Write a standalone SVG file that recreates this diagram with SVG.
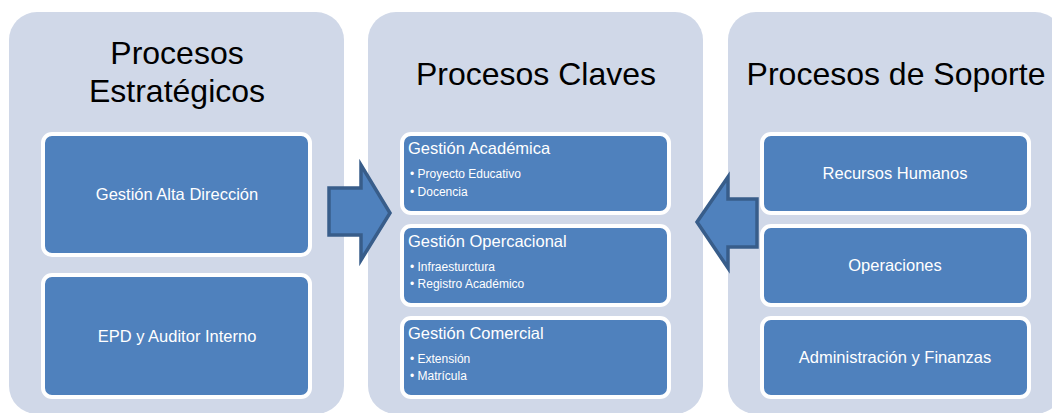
<svg xmlns="http://www.w3.org/2000/svg" width="1052" height="413" viewBox="0 0 1052 413">
<style>
.panel{fill:#D0D8E8}
.box{fill:#4F81BD;stroke:#FFFFFF;stroke-width:4}
.title{font-family:"Liberation Sans",Arial,sans-serif;font-size:32px;fill:#000000;text-anchor:middle}
.lbl{font-family:"Liberation Sans",Arial,sans-serif;font-size:16.5px;fill:#FFFFFF;text-anchor:middle}
.head{font-family:"Liberation Sans",Arial,sans-serif;font-size:16.5px;fill:#FFFFFF}
.bul{font-family:"Liberation Sans",Arial,sans-serif;font-size:12px;fill:#FFFFFF}
.arrow{fill:#4F81BD;stroke:#385D8A;stroke-width:3.5;stroke-linejoin:miter}
</style>
<rect width="1052" height="413" fill="#FFFFFF"/>
<g id="panel-estrategicos">
<rect class="panel" x="9" y="12" width="335" height="402" rx="28"/>
<text class="title" x="177" y="64">Procesos</text>
<text class="title" x="177" y="102">Estratégicos</text>
</g>
<g id="panel-claves">
<rect class="panel" x="368" y="12" width="335" height="402" rx="28"/>
<text class="title" x="536" y="85">Procesos Claves</text>
</g>
<g id="panel-soporte">
<rect class="panel" x="728" y="12" width="335" height="402" rx="28"/>
<text class="title" x="896" y="85">Procesos de Soporte</text>
</g>
<g id="gestion-alta-direccion">
<rect class="box" x="43" y="134" width="267" height="121" rx="9"/>
<text class="lbl" x="177" y="200">Gestión Alta Dirección</text>
</g>
<g id="epd-auditor">
<rect class="box" x="43" y="275" width="267" height="122" rx="9"/>
<text class="lbl" x="177" y="342">EPD y Auditor Interno</text>
</g>
<g id="gestion-academica">
<rect class="box" x="402" y="134" width="267" height="79" rx="9"/>
<text class="head" x="408" y="154">Gestión Académica</text>
<text class="bul" x="410" y="178">•  Proyecto Educativo</text>
<text class="bul" x="410" y="196">•  Docencia</text>
</g>
<g id="gestion-operacional">
<rect class="box" x="402" y="226" width="267" height="79" rx="9"/>
<text class="head" x="408" y="247">Gestión Opercacional</text>
<text class="bul" x="410" y="271">•  Infraesturctura</text>
<text class="bul" x="410" y="288">•  Registro Académico</text>
</g>
<g id="gestion-comercial">
<rect class="box" x="402" y="318" width="267" height="79" rx="9"/>
<text class="head" x="408" y="339">Gestión Comercial</text>
<text class="bul" x="410" y="363">•  Extensión</text>
<text class="bul" x="410" y="380">•  Matrícula</text>
</g>
<g id="recursos-humanos">
<rect class="box" x="762" y="134" width="267" height="79" rx="9"/>
<text class="lbl" x="895" y="179">Recursos Humanos</text>
</g>
<g id="operaciones">
<rect class="box" x="762" y="226" width="267" height="79" rx="9"/>
<text class="lbl" x="895" y="271">Operaciones</text>
</g>
<g id="administracion-finanzas">
<rect class="box" x="762" y="318" width="267" height="79" rx="9"/>
<text class="lbl" x="895" y="363">Administración y Finanzas</text>
</g>
<g id="connectors">
<path class="arrow" d="M329,188 L361,188 L361,165 L390,213 L361,260 L361,235 L329,235 Z"/>
<path class="arrow" d="M757,199 L728,199 L728,177 L697,222 L728,268 L728,247 L757,247 Z"/>
</g>
</svg>
